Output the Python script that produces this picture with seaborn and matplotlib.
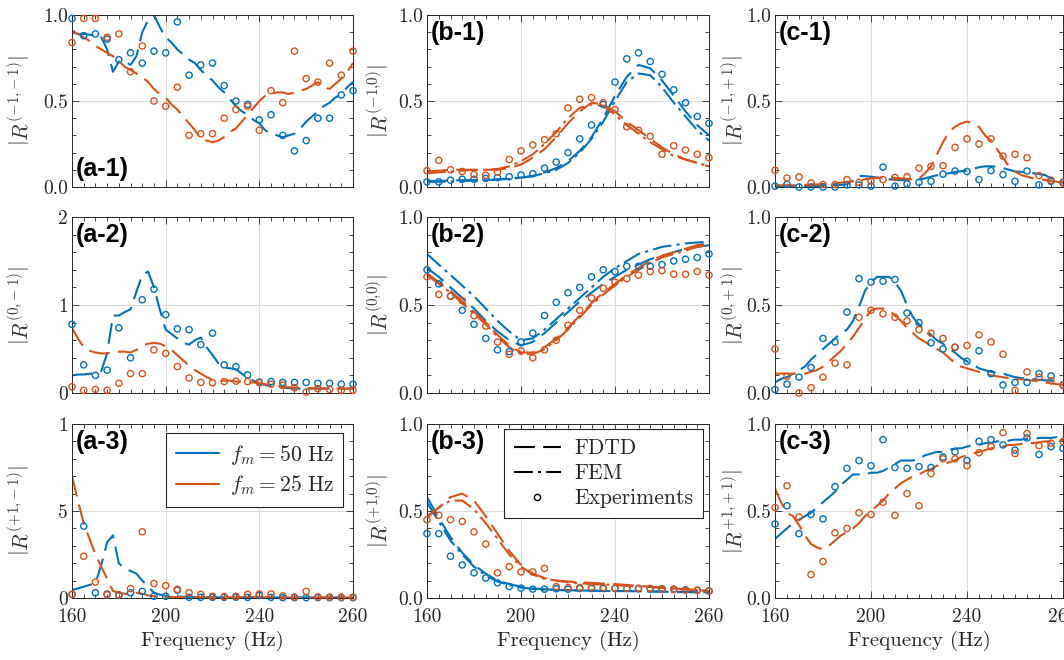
import numpy as np
import matplotlib
matplotlib.use("Agg")
import matplotlib.pyplot as plt
from matplotlib.ticker import MultipleLocator
from matplotlib.lines import Line2D
import seaborn as sns

# ---------------------------------------------------------------- data
# measured frequencies (5 Hz steps) and simulation grids
f_exp = np.arange(160, 281, 5)
f_sim = np.arange(160, 280.1, 2.5)

xtick_values = [160, 200, 240, 280]
xtick_labels = ["160", "200", "240", "260"]

# ---- order (-1,-1)
a1_exp_50 = [0.98, 0.88, 0.89, 0.86, 0.74, 0.78, 0.72, 0.79, 0.78, 0.96, 0.65, 0.71, 0.72,
             0.59, 0.50, 0.48, 0.39, 0.42, 0.30, 0.21, 0.27, 0.40, 0.40, 0.535, 0.56]
a1_exp_25 = [0.84, 0.98, 0.98, 0.87, 0.89, 0.67, 0.82, 0.50, 0.47, 0.58, 0.30, 0.31, 0.31,
             0.40, 0.45, 0.47, 0.33, 0.56, 0.49, 0.79, 0.63, 0.61, 0.72, 0.65, 0.79]
a1_fdtd_50 = [0.90, 0.89, 0.89, 0.885, 0.88, 0.87, 0.80, 0.67, 0.73, 0.73,
              0.71, 0.76, 0.90, 0.97, 1.0, 0.93, 0.87, 0.84, 0.80, 0.77,
              0.74, 0.72, 0.68, 0.65, 0.62, 0.58, 0.55, 0.51, 0.47, 0.44,
              0.42, 0.39, 0.37, 0.33, 0.31, 0.30, 0.29, 0.30, 0.31, 0.34,
              0.38, 0.41, 0.44, 0.47, 0.49, 0.52, 0.54, 0.58, 0.61]
a1_fdtd_25 = [0.91, 0.89, 0.87, 0.85, 0.82, 0.80, 0.78, 0.76, 0.73, 0.70,
              0.68, 0.66, 0.64, 0.61, 0.57, 0.54, 0.52, 0.48, 0.45, 0.41,
              0.37, 0.33, 0.28, 0.27, 0.26, 0.27, 0.29, 0.32, 0.34, 0.38,
              0.42, 0.46, 0.50, 0.53, 0.54, 0.55, 0.55, 0.54, 0.55, 0.56,
              0.57, 0.59, 0.61, 0.58, 0.57, 0.60, 0.63, 0.67, 0.72]

# ---- order (0,-1)
a2_exp_50 = [0.78, 0.32, 0.20, 0.26, 0.74, 0.40, 1.06, 1.18, 0.89, 0.73, 0.72, 0.55, 0.68,
             0.32, 0.30, 0.205, 0.125, 0.13, 0.12, 0.12, 0.12, 0.11, 0.11, 0.10, 0.10]
a2_exp_25 = [0.07, 0.03, 0.04, 0.03, 0.11, 0.22, 0.22, 0.49, 0.45, 0.30, 0.17, 0.12, 0.115,
             0.13, 0.135, 0.13, 0.115, 0.10, 0.09, 0.06, 0.01, 0.05, 0.04, 0.03, 0.03]
a2_fdtd_50 = [0.20, 0.21, 0.21, 0.22, 0.22, 0.25, 0.45, 0.88, 0.88, 0.92,
              0.95, 1.15, 1.34, 1.38, 1.20, 0.95, 0.72, 0.67, 0.62, 0.57,
              0.55, 0.60, 0.63, 0.52, 0.43, 0.34, 0.29, 0.28, 0.27, 0.22,
              0.17, 0.14, 0.11, 0.09, 0.08, 0.07, 0.06, 0.055, 0.05, 0.05,
              0.05, 0.05, 0.05, 0.05, 0.05, 0.05, 0.05, 0.05, 0.05]
a2_fdtd_25 = [0.74, 0.62, 0.52, 0.48, 0.46, 0.45, 0.45, 0.46, 0.47, 0.47,
              0.46, 0.49, 0.54, 0.56, 0.57, 0.56, 0.53, 0.49, 0.43, 0.37,
              0.31, 0.26, 0.22, 0.18, 0.15, 0.14, 0.14, 0.14, 0.13, 0.13,
              0.12, 0.12, 0.11, 0.10, 0.09, 0.08, 0.07, 0.065, 0.06, 0.06,
              0.055, 0.055, 0.05, 0.05, 0.05, 0.05, 0.05, 0.05, 0.05]

# ---- order (+1,-1)
a3_exp_50 = [0.20, 4.13, 0.30, 0.23, 0.15, 0.30, 0.38, 0.10, 0.10, 0.45, 0.04, 0.04, 0.04,
             0.04, 0.04, 0.04, 0.15, 0.04, 0.02, 0.02, 0.02, 0.02, 0.02, 0.02, 0.02]
a3_exp_25 = [0.21, 2.40, 0.92, 0.19, 0.19, 0.54, 3.81, 0.83, 0.71, 0.50, 0.31, 0.21, 0.10,
             0.08, 0.10, 0.21, 0.23, 0.23, 0.12, 0.06, 0.38, 0.06, 0.05, 0.05, 0.05]
a3_fdtd_50 = [0.45, 0.55, 0.65, 0.75, 0.85, 1.90, 3.20, 3.60, 2.00, 1.70,
              1.55, 1.40, 1.00, 0.65, 0.30, 0.20, 0.12, 0.10, 0.08, 0.07,
              0.06, 0.05, 0.05, 0.05, 0.04, 0.04, 0.04, 0.04, 0.04, 0.04,
              0.04, 0.04, 0.03, 0.03, 0.03, 0.03, 0.03, 0.03, 0.03, 0.03,
              0.03, 0.03, 0.03, 0.03, 0.03, 0.03, 0.03, 0.03, 0.03]
a3_fdtd_25 = [7.00, 5.60, 4.30, 3.40, 2.50, 1.80, 1.10, 0.40, 0.30, 0.25,
              0.20, 0.30, 0.25, 0.15, 0.10, 0.08, 0.07, 0.06, 0.05, 0.05,
              0.04, 0.04, 0.04, 0.04, 0.04, 0.04, 0.04, 0.04, 0.04, 0.04,
              0.03, 0.03, 0.03, 0.03, 0.03, 0.03, 0.03, 0.03, 0.03, 0.03,
              0.03, 0.03, 0.03, 0.03, 0.03, 0.03, 0.03, 0.03, 0.03]

# ---- order (-1,0)
b1_exp_50 = [0.03, 0.03, 0.04, 0.045, 0.045, 0.05, 0.055, 0.06, 0.07, 0.077, 0.11, 0.145, 0.20,
             0.28, 0.36, 0.48, 0.61, 0.745, 0.78, 0.73, 0.655, 0.565, 0.49, 0.41, 0.37]
b1_exp_25 = [0.095, 0.155, 0.10, 0.09, 0.073, 0.068, 0.087, 0.16, 0.21, 0.245, 0.275, 0.31, 0.46,
             0.51, 0.52, 0.49, 0.45, 0.35, 0.33, 0.295, 0.19, 0.24, 0.215, 0.19, 0.17]
b1_fdtd_50 = [0.035, 0.035, 0.038, 0.04, 0.04, 0.04, 0.045, 0.05, 0.055, 0.065, 0.085, 0.11, 0.15,
              0.21, 0.29, 0.40, 0.53, 0.64, 0.71, 0.69, 0.62, 0.53, 0.44, 0.36, 0.30]
b1_fem_50 = [0.03, 0.03, 0.032, 0.035, 0.037, 0.04, 0.042, 0.047, 0.053, 0.063, 0.08, 0.10, 0.14,
             0.20, 0.28, 0.38, 0.50, 0.61, 0.66, 0.65, 0.58, 0.49, 0.41, 0.33, 0.27]
b1_fdtd_25 = [0.09, 0.095, 0.10, 0.10, 0.10, 0.10, 0.10, 0.11, 0.13, 0.17, 0.22, 0.29, 0.37,
              0.44, 0.49, 0.48, 0.44, 0.38, 0.33, 0.28, 0.23, 0.19, 0.16, 0.14, 0.12]
b1_fem_25 = [0.08, 0.085, 0.09, 0.095, 0.10, 0.10, 0.105, 0.12, 0.15, 0.19, 0.25, 0.32, 0.40,
             0.46, 0.48, 0.47, 0.42, 0.36, 0.31, 0.26, 0.22, 0.18, 0.16, 0.14, 0.12]

# ---- order (0,0)
b2_exp_50 = [0.70, 0.62, 0.55, 0.47, 0.39, 0.31, 0.245, 0.235, 0.29, 0.34, 0.44, 0.515, 0.57,
             0.60, 0.66, 0.70, 0.69, 0.72, 0.72, 0.72, 0.73, 0.75, 0.76, 0.77, 0.79]
b2_exp_25 = [0.66, 0.56, 0.55, 0.525, 0.44, 0.38, 0.29, 0.22, 0.24, 0.20, 0.245, 0.30, 0.385,
             0.47, 0.54, 0.595, 0.63, 0.65, 0.67, 0.69, 0.695, 0.675, 0.675, 0.69, 0.67]
b2_fdtd_50 = [0.71, 0.66, 0.60, 0.54, 0.48, 0.41, 0.35, 0.30, 0.27, 0.29, 0.34, 0.40, 0.46,
              0.52, 0.57, 0.62, 0.66, 0.70, 0.73, 0.76, 0.78, 0.80, 0.82, 0.83, 0.84]
b2_fem_50 = [0.79, 0.73, 0.67, 0.61, 0.55, 0.48, 0.41, 0.35, 0.30, 0.31, 0.36, 0.42, 0.48,
             0.54, 0.60, 0.66, 0.71, 0.75, 0.79, 0.81, 0.83, 0.84, 0.85, 0.855, 0.86]
b2_fdtd_25 = [0.68, 0.63, 0.58, 0.52, 0.46, 0.40, 0.33, 0.27, 0.23, 0.23, 0.26, 0.31, 0.37,
              0.44, 0.51, 0.57, 0.62, 0.67, 0.71, 0.75, 0.78, 0.80, 0.82, 0.84, 0.85]
b2_fem_25 = [0.67, 0.62, 0.57, 0.51, 0.45, 0.39, 0.32, 0.26, 0.22, 0.22, 0.25, 0.30, 0.36,
             0.43, 0.50, 0.56, 0.61, 0.66, 0.70, 0.74, 0.77, 0.79, 0.81, 0.83, 0.84]

# ---- order (+1,0)
b3_exp_50 = [0.37, 0.37, 0.24, 0.19, 0.145, 0.115, 0.087, 0.066, 0.057, 0.051, 0.051, 0.053, 0.051,
             0.055, 0.055, 0.055, 0.055, 0.055, 0.055, 0.053, 0.053, 0.051, 0.047, 0.044, 0.04]
b3_exp_25 = [0.45, 0.475, 0.45, 0.44, 0.38, 0.31, 0.145, 0.18, 0.15, 0.15, 0.17, 0.065, 0.06,
             0.06, 0.06, 0.06, 0.055, 0.055, 0.055, 0.055, 0.05, 0.05, 0.045, 0.045, 0.04]
b3_fdtd_50 = [0.58, 0.46, 0.35, 0.26, 0.19, 0.14, 0.10, 0.08, 0.065, 0.055, 0.05, 0.047, 0.045,
              0.043, 0.042, 0.04, 0.04, 0.04, 0.038, 0.037, 0.036, 0.035, 0.034, 0.033, 0.032]
b3_fem_50 = [0.55, 0.44, 0.33, 0.25, 0.18, 0.13, 0.095, 0.075, 0.06, 0.052, 0.048, 0.046, 0.044,
             0.043, 0.042, 0.041, 0.04, 0.04, 0.039, 0.038, 0.037, 0.036, 0.035, 0.034, 0.033]
b3_fdtd_25 = [0.46, 0.52, 0.58, 0.60, 0.56, 0.47, 0.37, 0.27, 0.19, 0.14, 0.115, 0.10, 0.095,
              0.09, 0.087, 0.083, 0.08, 0.075, 0.07, 0.065, 0.06, 0.055, 0.05, 0.045, 0.04]
b3_fem_25 = [0.47, 0.52, 0.56, 0.56, 0.51, 0.43, 0.34, 0.25, 0.18, 0.135, 0.11, 0.10, 0.09,
             0.085, 0.08, 0.078, 0.075, 0.07, 0.066, 0.062, 0.058, 0.054, 0.05, 0.046, 0.042]

# ---- order (-1,+1)
c1_exp_50 = [0.005, 0.015, 0.0, 0.0, 0.0, 0.0, 0.012, 0.012, 0.005, 0.115, 0.005, 0.018, 0.027,
             0.033, 0.075, 0.093, 0.09, 0.043, 0.095, 0.072, 0.033, 0.093, 0.012, 0.033, 0.027]
c1_exp_25 = [0.097, 0.052, 0.058, 0.023, 0.014, 0.014, 0.043, 0.027, 0.033, 0.043, 0.056, 0.06, 0.11,
             0.12, 0.124, 0.23, 0.28, 0.25, 0.28, 0.18, 0.19, 0.17, 0.066, 0.039, 0.023]
c1_fdtd_50 = [0.005, 0.005, 0.005, 0.005, 0.005, 0.005, 0.005, 0.006, 0.008, 0.01,
              0.01, 0.012, 0.015, 0.04, 0.065, 0.063, 0.06, 0.055, 0.05, 0.045,
              0.042, 0.04, 0.04, 0.042, 0.044, 0.05, 0.06, 0.068, 0.075, 0.08,
              0.087, 0.092, 0.095, 0.105, 0.115, 0.12, 0.12, 0.118, 0.11, 0.10,
              0.09, 0.088, 0.085, 0.08, 0.075, 0.07, 0.05, 0.035, 0.025]
c1_fdtd_25 = [0.01, 0.01, 0.01, 0.01, 0.01, 0.012, 0.013, 0.015, 0.017, 0.019,
              0.02, 0.025, 0.03, 0.033, 0.036, 0.045, 0.05, 0.053, 0.056, 0.055,
              0.053, 0.05, 0.047, 0.044, 0.05, 0.08, 0.12, 0.19, 0.26, 0.32,
              0.35, 0.37, 0.38, 0.37, 0.35, 0.30, 0.27, 0.22, 0.17, 0.12,
              0.09, 0.07, 0.06, 0.05, 0.045, 0.04, 0.035, 0.03, 0.025]

# ---- order (0,+1)
c2_exp_50 = [0.02, 0.05, 0.09, 0.145, 0.31, 0.29, 0.46, 0.65, 0.63, 0.635, 0.645, 0.455, 0.40,
             0.285, 0.25, 0.26, 0.18, 0.24, 0.11, 0.046, 0.06, 0.06, 0.11, 0.097, 0.046]
c2_exp_25 = [0.25, 0.095, 0.0, 0.03, 0.09, 0.17, 0.16, 0.43, 0.47, 0.45, 0.43, 0.41, 0.36,
             0.34, 0.31, 0.26, 0.27, 0.33, 0.29, 0.22, 0.015, 0.12, 0.09, 0.07, 0.045]
c2_fdtd_50 = [0.06, 0.08, 0.09, 0.11, 0.13, 0.15, 0.19, 0.22, 0.25, 0.28,
              0.31, 0.34, 0.36, 0.41, 0.49, 0.58, 0.63, 0.66, 0.66, 0.66,
              0.63, 0.58, 0.50, 0.43, 0.39, 0.36, 0.33, 0.30, 0.28, 0.25,
              0.23, 0.20, 0.18, 0.16, 0.14, 0.13, 0.12, 0.115, 0.11, 0.10,
              0.09, 0.085, 0.08, 0.078, 0.075, 0.072, 0.07, 0.065, 0.06]
c2_fdtd_25 = [0.11, 0.11, 0.11, 0.11, 0.11, 0.11, 0.12, 0.13, 0.15, 0.18,
              0.21, 0.24, 0.28, 0.32, 0.37, 0.42, 0.47, 0.48, 0.48, 0.47,
              0.44, 0.41, 0.37, 0.34, 0.31, 0.29, 0.27, 0.25, 0.23, 0.20,
              0.17, 0.15, 0.14, 0.13, 0.12, 0.11, 0.10, 0.095, 0.09, 0.085,
              0.08, 0.078, 0.075, 0.07, 0.065, 0.06, 0.055, 0.05, 0.045]

# ---- order (+1,+1)
c3_exp_50 = [0.425, 0.53, 0.37, 0.48, 0.455, 0.64, 0.745, 0.79, 0.76, 0.91, 0.75, 0.745, 0.755,
             0.75, 0.81, 0.84, 0.79, 0.90, 0.91, 0.88, 0.85, 0.92, 0.825, 0.87, 0.86]
c3_exp_25 = [0.52, 0.645, 0.465, 0.135, 0.21, 0.375, 0.40, 0.49, 0.48, 0.55, 0.475, 0.60, 0.53,
             0.715, 0.80, 0.80, 0.76, 0.835, 0.87, 0.95, 0.83, 0.945, 0.875, 0.89, 0.90]
c3_fdtd_50 = [0.34, 0.37, 0.40, 0.43, 0.45, 0.47, 0.49, 0.52, 0.55, 0.58,
              0.61, 0.65, 0.68, 0.71, 0.71, 0.71, 0.72, 0.72, 0.73, 0.75,
              0.77, 0.79, 0.79, 0.79, 0.80, 0.82, 0.83, 0.84, 0.84, 0.85,
              0.86, 0.86, 0.87, 0.88, 0.88, 0.89, 0.89, 0.90, 0.90, 0.905,
              0.91, 0.91, 0.915, 0.915, 0.92, 0.92, 0.92, 0.925, 0.925]
c3_fdtd_25 = [0.63, 0.55, 0.49, 0.47, 0.42, 0.36, 0.31, 0.29, 0.28, 0.30,
              0.33, 0.36, 0.38, 0.40, 0.43, 0.47, 0.50, 0.53, 0.56, 0.60,
              0.63, 0.66, 0.68, 0.70, 0.71, 0.73, 0.74, 0.76, 0.77, 0.78,
              0.79, 0.81, 0.82, 0.83, 0.84, 0.85, 0.86, 0.87, 0.87, 0.88,
              0.88, 0.885, 0.89, 0.89, 0.895, 0.90, 0.90, 0.905, 0.91]

# ---------------------------------------------------------------- style
sns.set_theme(style="ticks")
plt.rcParams.update({
    "font.family": ["cmr10", "DejaVu Serif"],
    "mathtext.fontset": "cm",
    "axes.unicode_minus": False,
    "axes.formatter.use_mathtext": True,
    "axes.axisbelow": True,
})

INK = "#262626"
C50 = "#0072BD"
C25 = "#D95319"
LW = 1.5
DASH_FDTD = (0, (10, 4))
DASH_FEM = (0, (9, 2.5, 1.5, 2.5))

# axes boxes in pixels of a 1064 x 660 canvas
W, H = 1064, 660
col_left = [72, 427, 775]
col_width = [281, 282, 288]
row_top = [15, 217, 424]
row_height = [172, 176, 174]
ylabel_x = [-0.139, -0.124, -0.097]

fig = plt.figure(figsize=(W / 100, H / 100), dpi=100)

panels = [
    # (row, col, tag, order, ylim, yticks, yticklabels, yminor, exp50, exp25, fdtd50, fdtd25, fem50, fem25)
    (0, 0, "(a-1)", "(-1{,}-1)", (0, 1), [0, 0.5, 1], ["0.0", "0.5", "1.0"], 0.1,
     a1_exp_50, a1_exp_25, a1_fdtd_50, a1_fdtd_25, None, None),
    (1, 0, "(a-2)", "(0{,}-1)", (0, 2), [0, 1, 2], ["0", "1", "2"], 0.2,
     a2_exp_50, a2_exp_25, a2_fdtd_50, a2_fdtd_25, None, None),
    (2, 0, "(a-3)", "(+1{,}-1)", (0, 10), [0, 5, 10], ["0", "5", "1"], 1,
     a3_exp_50, a3_exp_25, a3_fdtd_50, a3_fdtd_25, None, None),
    (0, 1, "(b-1)", "(-1{,}0)", (0, 1), [0, 0.5, 1], ["0.0", "0.5", "1.0"], 0.1,
     b1_exp_50, b1_exp_25, b1_fdtd_50, b1_fdtd_25, b1_fem_50, b1_fem_25),
    (1, 1, "(b-2)", "(0{,}0)", (0, 1), [0, 0.5, 1], ["0.0", "0.5", "1.0"], 0.1,
     b2_exp_50, b2_exp_25, b2_fdtd_50, b2_fdtd_25, b2_fem_50, b2_fem_25),
    (2, 1, "(b-3)", "(+1{,}0)", (0, 1), [0, 0.5, 1], ["0.0", "0.5", "1.0"], 0.1,
     b3_exp_50, b3_exp_25, b3_fdtd_50, b3_fdtd_25, b3_fem_50, b3_fem_25),
    (0, 2, "(c-1)", "(-1{,}+1)", (0, 1), [0, 0.5, 1], ["0.0", "0.5", "1.0"], 0.1,
     c1_exp_50, c1_exp_25, c1_fdtd_50, c1_fdtd_25, None, None),
    (1, 2, "(c-2)", "(0{,}+1)", (0, 1), [0, 0.5, 1], ["0.0", "0.5", "1.0"], 0.1,
     c2_exp_50, c2_exp_25, c2_fdtd_50, c2_fdtd_25, None, None),
    (2, 2, "(c-3)", "+1{,}+1)", (0, 1), [0, 0.5, 1], ["0.0", "0.5", "1.0"], 0.1,
     c3_exp_50, c3_exp_25, c3_fdtd_50, c3_fdtd_25, None, None),
]

axes = {}
for (r, c, tag, order, ylim, yt, ytl, ymin_step,
     e50, e25, d50, d25, m50, m25) in panels:
    left = col_left[c] / W
    bottom = 1 - (row_top[r] + row_height[r]) / H
    ax = fig.add_axes([left, bottom, col_width[c] / W, row_height[r] / H])
    axes[(r, c)] = ax

    # simulations
    sim_x = f_exp if m50 is not None else f_sim
    for vals, col in ((d50, C50), (d25, C25)):
        sns.lineplot(x=sim_x, y=vals, ax=ax, color=col, linewidth=LW,
                     linestyle=DASH_FDTD, estimator=None, sort=False,
                     legend=False, zorder=2)
    if m50 is not None:
        for vals, col in ((m50, C50), (m25, C25)):
            sns.lineplot(x=sim_x, y=vals, ax=ax, color=col, linewidth=LW,
                         linestyle=DASH_FEM, estimator=None, sort=False,
                         legend=False, zorder=2)

    # experiments
    for vals, col in ((e50, C50), (e25, C25)):
        sns.scatterplot(x=f_exp, y=vals, ax=ax, marker="o", s=20,
                        facecolor="none", edgecolor=col, linewidth=1.0,
                        legend=False, zorder=3, clip_on=False)

    # axes cosmetics
    ax.set_xlim(160, 280)
    ax.set_ylim(*ylim)
    ax.set_xticks(xtick_values)
    ax.set_xticklabels(xtick_labels if r == 2 else [])
    ax.xaxis.set_minor_locator(MultipleLocator(5))
    ax.set_yticks(yt)
    ax.set_yticklabels(ytl)
    ax.yaxis.set_minor_locator(MultipleLocator(ymin_step))
    ax.tick_params(which="both", direction="in", top=True, right=True,
                   color=INK, width=0.6, labelcolor=INK)
    ax.tick_params(which="major", length=5, labelsize=14, pad=3)
    ax.tick_params(axis="x", which="major", pad=7.5)
    ax.tick_params(which="minor", length=2.8)
    ax.grid(True, which="major", color="#dcdcdc", linewidth=0.8)
    for sp in ax.spines.values():
        sp.set_color(INK)
        sp.set_linewidth(0.7)

    ax.set_xlabel("Frequency (Hz)" if r == 2 else "", fontsize=15,
                  color=INK, labelpad=3)
    ax.set_ylabel(r"$\left|R^{%s}\right|$" % order, fontsize=15.5, color="#3a3a3a")
    ax.yaxis.set_label_coords(ylabel_x[c], 0.5)

    if tag == "(a-1)":
        ax.text(0.015, 0.035, tag, transform=ax.transAxes, ha="left", va="bottom",
                fontsize=18, fontweight="bold", family="Liberation Sans", color="black")
    else:
        ax.text(0.012, 0.965, tag, transform=ax.transAxes, ha="left", va="top",
                fontsize=18, fontweight="bold", family="Liberation Sans", color="black")

# modulation-frequency legend
fm_handles = [Line2D([], [], color=C50, lw=LW), Line2D([], [], color=C25, lw=LW)]
leg1 = axes[(2, 0)].legend(fm_handles,
                           [r"$f_m = 50\ \mathrm{Hz}$", r"$f_m = 25\ \mathrm{Hz}$"],
                           loc="upper left", bbox_to_anchor=(0.335, 0.948),
                           borderaxespad=0, fontsize=15.5, handlelength=2.0,
                           handletextpad=0.5, labelspacing=0.3, borderpad=0.45,
                           fancybox=False, framealpha=1, edgecolor=INK)
leg1.get_frame().set_linewidth(0.8)

# method legend
m_handles = [Line2D([], [], color="black", lw=LW, linestyle=DASH_FDTD),
             Line2D([], [], color="black", lw=LW, linestyle=DASH_FEM),
             Line2D([], [], color="black", lw=0, marker="o", markersize=4.5,
                    markerfacecolor="none", markeredgewidth=1.0)]
leg2 = axes[(2, 1)].legend(m_handles, ["FDTD", "FEM", "Experiments"],
                           loc="upper left", bbox_to_anchor=(0.273, 0.971),
                           borderaxespad=0, fontsize=15.5, handlelength=2.2,
                           handletextpad=0.6, labelspacing=0.25, borderpad=0.45,
                           fancybox=False, framealpha=1, edgecolor=INK)
leg2.get_frame().set_linewidth(0.8)

fig.savefig("out.png", dpi=100)
